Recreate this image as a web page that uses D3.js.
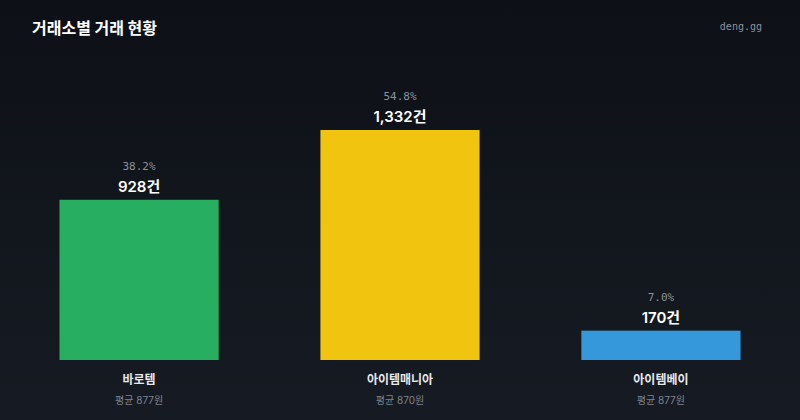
<!DOCTYPE html>
<html>
<head>
    <meta charset="utf-8">
    <title>거래소별 거래 현황</title>
    <script src="https://cdn.jsdelivr.net/npm/d3@7/dist/d3.min.js"></script>
    <style>
        html, body { margin: 0; padding: 0; background: #0d1117; }
        svg { display: block; }
    </style>
</head>
<body>
<div id="chart"></div>
<script>
    // data
    var exchanges = ['바로템', '아이템매니아', '아이템베이'];
    var counts = [928, 1332, 170];
    var shares = ['38.2%', '54.8%', '7.0%'];
    var avgPrices = [877, 870, 877];
    var colors = ['#27ae60', '#f1c40f', '#3498db'];

    var width = 800, height = 420;
    var baseY = 360;
    var sans = 'Inter, "Noto Sans CJK KR", sans-serif';

    var svg = d3.select('#chart').append('svg')
        .attr('width', width)
        .attr('height', height);

    // background, a little lighter towards the bottom
    var grad = svg.append('defs').append('linearGradient')
        .attr('id', 'bg').attr('x1', 0).attr('y1', 0).attr('x2', 0).attr('y2', 1);
    grad.append('stop').attr('offset', '0%').attr('stop-color', '#0d1016');
    grad.append('stop').attr('offset', '100%').attr('stop-color', '#161b23');
    svg.append('rect').attr('width', width).attr('height', height).attr('fill', 'url(#bg)');

    svg.append('text')
        .attr('x', 32).attr('y', 34)
        .attr('fill', '#ffffff')
        .style('font-family', '"Noto Sans CJK KR", sans-serif')
        .style('font-size', '16px')
        .style('font-weight', 700)
        .text('거래소별 거래 현황');

    svg.append('text')
        .attr('x', 762).attr('y', 30)
        .attr('text-anchor', 'end')
        .attr('fill', '#8b929c')
        .style('font-family', '"DejaVu Sans Mono", monospace')
        .style('font-size', '10px')
        .text('deng.gg');

    var x = d3.scaleBand()
        .domain(exchanges)
        .range([30, 770])
        .paddingInner(0.39)
        .paddingOuter(0.113);

    var y = d3.scaleLinear()
        .domain([0, d3.max(counts)])
        .range([baseY, 130]);

    var rows = exchanges.map(function(name, i) {
        return { name: name, count: counts[i], share: shares[i], avg: avgPrices[i], color: colors[i] };
    });

    var g = svg.selectAll('g.bar')
        .data(rows)
        .enter()
        .append('g')
        .attr('class', 'bar');

    g.append('rect')
        .attr('x', function(d) { return x(d.name); })
        .attr('y', function(d) { return y(d.count); })
        .attr('width', x.bandwidth())
        .attr('height', function(d) { return baseY - y(d.count); })
        .attr('fill', function(d) { return d.color; });

    var cx = function(d) { return x(d.name) + x.bandwidth() / 2; };

    g.append('text')
        .attr('x', cx)
        .attr('y', function(d) { return y(d.count) - 30; })
        .attr('text-anchor', 'middle')
        .attr('fill', '#8b929c')
        .style('font-family', '"DejaVu Sans Mono", monospace')
        .style('font-size', '11px')
        .text(function(d) { return d.share; });

    g.append('text')
        .attr('x', cx)
        .attr('y', function(d) { return y(d.count) - 8; })
        .attr('text-anchor', 'middle')
        .attr('fill', '#ffffff')
        .style('font-family', sans)
        .style('font-size', '15px')
        .style('font-weight', 600)
        .text(function(d) { return d3.format(',')(d.count) + '건'; });

    g.append('text')
        .attr('x', cx)
        .attr('y', baseY + 24)
        .attr('text-anchor', 'middle')
        .attr('fill', '#e6e8eb')
        .style('font-family', sans)
        .style('font-size', '12px')
        .style('font-weight', 600)
        .text(function(d) { return d.name; });

    g.append('text')
        .attr('x', cx)
        .attr('y', baseY + 44)
        .attr('text-anchor', 'middle')
        .attr('fill', '#7d848e')
        .style('font-family', sans)
        .style('font-size', '10px')
        .text(function(d) { return '평균 ' + d.avg + '원'; });
</script>
</body>
</html>
